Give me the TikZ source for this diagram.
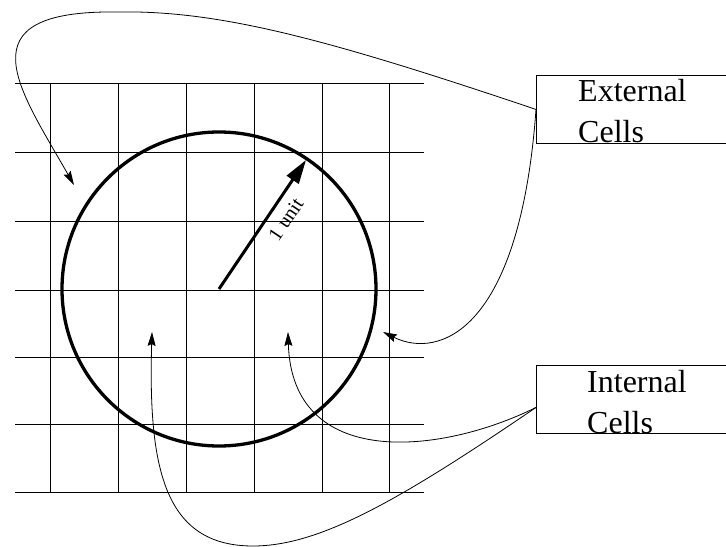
\documentclass[tikz,border=0pt]{standalone}
\usepackage{fontspec}
\setmainfont{Liberation Serif}
\usetikzlibrary{arrows.meta}

\begin{document}
\begin{tikzpicture}[
    x=1bp, y=-1bp,
    gridline/.style={line width=0.9bp},
    cellbox/.style={
        rectangle,
        draw,
        line width=0.9bp,
        anchor=north west,
        minimum width=200bp,
        minimum height=68bp,
        inner sep=0pt
    },
    celltext/.style={
        anchor=base west,
        align=left,
        inner sep=0pt,
        font=\fontsize{32bp}{41bp}\selectfont
    },
    pointer/.style={-{Stealth[length=14bp,width=8bp,inset=2bp]},line width=0.8bp},
    unitarrow/.style={-{Triangle[length=24bp,width=14bp]},line width=3bp}
]
    \useasboundingbox (0,0) rectangle (726,547);
    \clip (0,0) rectangle (726,547);

    % grid
    \foreach \y in {83,152,221,290,357,424,492}
        \draw[gridline] (15,\y) -- (424,\y);
    \foreach \x in {50,118,186,254,322,389}
        \draw[gridline] (\x,83) -- (\x,492);

    \node[circle, draw, line width=3.3bp, minimum size=314bp, inner sep=0pt] (disk) at (219,289) {};
    \draw[unitarrow, shorten >=3bp] (disk.center) -- (disk.56)
        node[sloped, below=5bp, pos=0.6, font=\fontsize{20bp}{24bp}\selectfont] (unitlabel) {1 unit};

    \node[cellbox] (ext) at (536,75) {};
    \node[celltext] (exttext) at (578,143) {External\\Cells};
    \node[cellbox] (int) at (536,365) {};
    \node[celltext] (inttext) at (587,433) {Internal\\Cells};

    \coordinate (outtip) at (74,185);
    \coordinate (rimtip) at (383,332);
    \coordinate (righttip) at (288,332);
    \coordinate (lefttip) at (152,332);

    \draw[pointer] (ext.west) .. controls (330,40) and (220,10) .. (117,12)
        .. controls (-40,10) and (20,90) .. (outtip);
    \draw[pointer] (ext.west) .. controls (520,330) and (440,360) .. (rimtip);
    \draw[pointer] ([yshift=-8bp]int.west) .. controls (440,455) and (292,470) .. (righttip);
    \draw[pointer] ([yshift=-8bp]int.west) .. controls (400,500) and (320,546) .. (253,546)
        .. controls (165,546) and (148,470) .. (lefttip);
\end{tikzpicture}
\end{document}
